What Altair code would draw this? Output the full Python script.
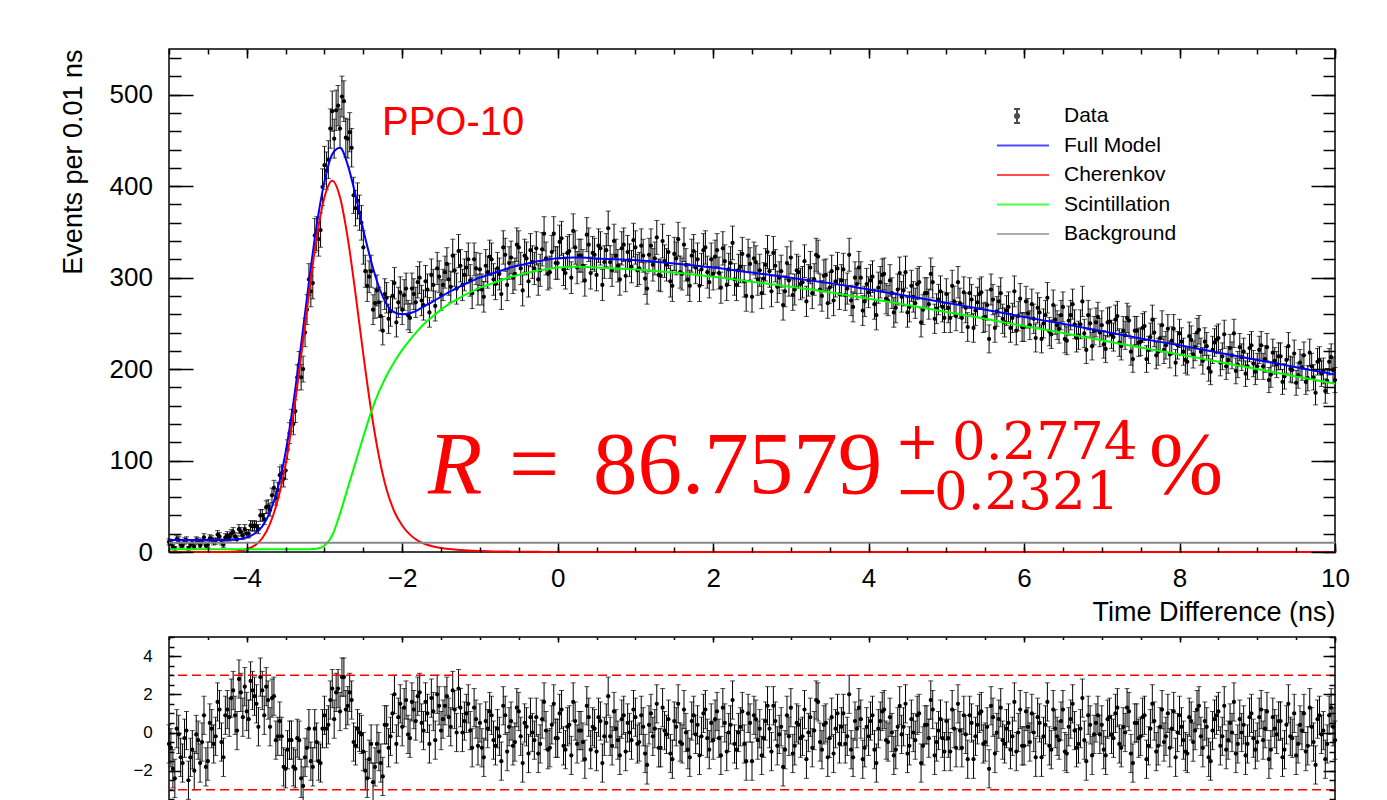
import altair as alt
import numpy as np
import pandas as pd

# ---------------- data ----------------
# bins starting at -5.000 every 0.05 ns
BIN_START_A = -5.0
# bins starting at -4.975 every 0.05 ns (interleaved with the first set)
BIN_START_B = -4.975
BIN_STEP = 0.05

counts_a = [
    11, 6, 14, 8, 12, 4, 10, 13, 7, 16, 8, 14, 12, 17, 8, 18, 20, 17, 25, 18,
    20, 29, 29, 25, 40, 49, 46, 70, 68, 86, 89, 130, 140, 191, 191, 240, 298, 294, 348, 352,
    423, 429, 482, 483, 463, 493, 452, 442, 376, 371, 333, 291, 307, 272, 273, 242, 278, 263, 294, 273,
    265, 288, 256, 282, 295, 275, 296, 262, 292, 310, 281, 306, 298, 324, 288, 313, 303, 320, 283, 310,
    309, 279, 306, 320, 293, 304, 333, 292, 322, 304, 333, 286, 321, 330, 310, 298, 331, 321, 306, 348,
    316, 343, 305, 329, 351, 311, 324, 297, 336, 327, 303, 332, 317, 354, 308, 324, 298, 336, 328, 312,
    333, 310, 324, 288, 335, 321, 303, 340, 314, 296, 326, 342, 304, 314, 291, 329, 320, 309, 333, 295,
    304, 330, 289, 318, 309, 338, 292, 312, 296, 324, 279, 317, 308, 299, 328, 285, 313, 300, 270, 316,
    322, 287, 306, 295, 274, 311, 298, 323, 280, 303, 289, 275, 310, 297, 281, 325, 268, 293, 300, 274,
    284, 301, 259, 295, 304, 275, 283, 267, 305, 286, 262, 291, 272, 295, 265, 283, 304, 255, 276, 268,
    282, 256, 274, 295, 256, 267, 283, 245, 273, 284, 257, 233, 276, 263, 283, 251, 268, 256, 242, 277,
    246, 261, 271, 234, 262, 250, 278, 238, 254, 244, 268, 231, 259, 249, 237, 274, 221, 250, 242, 257,
    248, 222, 252, 235, 258, 225, 237, 253, 211, 242, 230, 247, 221, 254, 215, 234, 221, 244, 231, 207,
    239, 219, 208, 232, 224, 243, 209, 225, 197, 229, 234, 214, 203, 223, 239, 205, 213, 195, 223, 206,
    203, 226, 211, 188, 218, 205, 214, 192, 225, 199, 185, 207, 215, 190, 203, 174, 210, 198, 187, 213,
    188,
]
counts_b = [
    10, 4, 13, 7, 13, 8, 6, 12, 11, 7, 15, 11, 19, 11, 16, 16, 22, 14, 22, 25,
    20, 28, 28, 40, 36, 50, 62, 59, 84, 80, 112, 144, 154, 205, 200, 265, 285, 346, 342, 399,
    417, 463, 452, 488, 498, 453, 459, 390, 384, 360, 307, 301, 265, 286, 258, 282, 255, 280, 251, 284,
    281, 259, 288, 273, 300, 270, 287, 303, 269, 301, 292, 315, 290, 308, 329, 292, 311, 297, 320, 287,
    287, 313, 323, 298, 310, 282, 325, 316, 300, 336, 310, 324, 296, 317, 332, 308, 348, 304, 328, 316,
    339, 309, 327, 300, 333, 324, 313, 347, 305, 325, 335, 292, 330, 317, 340, 313, 332, 302, 319, 341,
    308, 335, 299, 325, 314, 344, 302, 318, 328, 291, 321, 306, 336, 298, 324, 311, 291, 330, 306, 320,
    323, 305, 332, 292, 316, 298, 308, 326, 280, 315, 321, 298, 283, 314, 307, 327, 290, 307, 285, 297,
    281, 308, 293, 318, 297, 283, 325, 287, 302, 272, 307, 296, 282, 309, 288, 275, 300, 311, 264, 293,
    297, 271, 289, 303, 277, 297, 262, 287, 279, 306, 268, 279, 293, 251, 283, 271, 295, 266, 285, 256,
    267, 291, 258, 272, 284, 246, 276, 264, 282, 256, 270, 287, 245, 274, 255, 264, 245, 285, 258, 246,
    274, 248, 255, 267, 233, 259, 241, 270, 248, 259, 233, 253, 271, 234, 249, 239, 259, 225, 251, 240,
    227, 251, 238, 254, 229, 242, 256, 219, 242, 229, 245, 211, 235, 240, 219, 248, 226, 216, 244, 226,
    230, 210, 236, 216, 240, 219, 230, 201, 221, 232, 207, 238, 210, 215, 198, 224, 219, 203, 226, 197,
    221, 203, 224, 194, 209, 214, 186, 210, 200, 217, 193, 202, 186, 218, 191, 208, 195, 176, 208, 199,
]

pulls_a = [
    -0.6, -1.9, 0.2, -1.3, -0.3, -2.5, -0.9, -0.1, -1.6, 0.9, -1.5, 0.2, -0.2, 1.2, -1.3, 1.2, 1.8, 0.9, 2.8, 0.8,
    1.1, 2.7, 1.9, 0.3, 2.2, 2.4, 0.3, 1.9, -0.2, -0.2, -1.9, -0.4, -1.8, -0.3, -2.4, -1.3, 0.2, -1.8, -0.5, -1.6,
    0.9, 0.4, 2.3, 2.1, 1.1, 2.9, 1.4, 1.7, -0.7, 0.0, -1.0, -2.4, -0.6, -1.8, -1.0, -2.3, 0.4, -0.2, 2.0, 0.8,
    0.3, 1.7, -0.3, 1.2, 1.9, 0.5, 1.6, -0.6, 1.1, 2.0, 0.1, 1.4, 0.8, 2.2, 0.0, 1.3, 0.6, 1.5, -0.8, 0.7,
    0.5, -1.3, 0.2, 0.9, -0.7, -0.2, 1.4, -1.0, 0.6, -0.5, 1.1, -1.6, 0.3, 0.8, -0.4, -1.1, 0.7, 0.1, -0.8, 1.5,
    -0.3, 1.2, -0.9, 0.4, 1.6, -0.6, 0.1, -1.4, 0.8, 0.3, -1.0, 0.6, -0.2, 1.9, -0.7, 0.2, -1.2, 0.9, 0.5, -0.4,
    0.8, -0.5, 0.3, -1.7, 1.0, 0.2, -0.8, 1.3, -0.1, -1.1, 0.6, 1.5, -0.6, 0.0, -1.3, 0.9, 0.4, -0.2, 1.2, -0.9,
    -0.4, 1.1, -1.2, 0.5, 0.0, 1.7, -0.9, 0.3, -0.6, 1.0, -1.5, 0.7, 0.2, -0.3, 1.4, -1.0, 0.6, -0.1, -1.8, 0.9,
    1.3, -0.7, 0.4, -0.2, -1.4, 0.8, 0.1, 1.6, -0.9, 0.5, -0.3, -1.1, 1.0, 0.3, -0.6, 2.0, -1.3, 0.2, 0.7, -0.8,
    -0.2, 0.9, -1.6, 0.6, 1.2, -0.5, 0.0, -0.9, 1.4, 0.3, -1.1, 0.7, -0.4, 1.0, -0.7, 0.4, 1.7, -1.2, 0.1, -0.3,
    0.6, -1.0, 0.2, 1.5, -0.8, -0.1, 0.9, -1.4, 0.4, 1.1, -0.5, -1.9, 0.8, 0.0, 1.3, -0.6, 0.5, -0.2, -1.0, 1.2,
    -0.7, 0.3, 1.0, -1.3, 0.5, -0.2, 1.6, -0.9, 0.2, -0.4, 1.2, -1.1, 0.7, 0.1, -0.6, 1.8, -1.5, 0.4, -0.1, 0.9,
    0.4, -1.2, 0.8, -0.3, 1.3, -0.8, 0.0, 1.1, -1.6, 0.5, -0.2, 0.9, -0.7, 1.5, -1.0, 0.3, -0.5, 1.0, 0.2, -1.3,
    0.9, -0.4, -1.1, 0.6, 0.1, 1.4, -0.8, 0.3, -1.5, 0.7, 1.1, -0.2, -0.9, 0.5, 1.6, -0.6, 0.0, -1.2, 0.8, -0.3,
    -0.5, 1.2, 0.2, -1.4, 0.8, -0.1, 0.6, -0.9, 1.5, -0.3, -1.2, 0.4, 1.0, -0.7, 0.3, -1.7, 0.9, 0.1, -0.6, 1.3,
    -0.4,
]
pulls_b = [
    -0.8, -2.4, -0.1, -1.6, 0.1, -1.3, -2.0, -0.4, -0.5, -1.8, 0.5, -0.6, 1.6, -0.5, 0.9, 0.8, 2.2, 0.1, 2.1, 2.4,
    0.7, 2.2, 1.5, 2.9, 0.9, 1.7, 1.8, -0.4, 0.6, -1.8, -0.9, -0.4, -1.9, -0.4, -2.8, -0.8, -1.5, 0.2, -1.5, 0.2,
    0.2, 1.7, 0.7, 2.3, 2.9, 1.2, 2.1, -0.5, 0.2, -0.1, -2.0, -1.4, -2.6, -0.6, -1.6, 0.4, -0.8, 1.0, -0.6, 1.5,
    1.3, -0.1, 1.6, 0.6, 2.1, 0.1, 1.0, 1.8, -0.4, 1.4, 0.7, 1.9, 0.3, 1.2, 2.3, 0.0, 1.0, 0.1, 1.3, -0.7,
    -0.8, 0.6, 1.1, -0.4, 0.2, -1.5, 0.9, 0.3, -0.7, 1.3, -0.2, 0.5, -1.1, 0.0, 0.8, -0.6, 1.6, -0.9, 0.4, -0.3,
    1.0, -0.7, 0.3, -1.2, 0.6, 0.1, -0.5, 1.4, -0.9, 0.2, 0.8, -1.6, 0.5, -0.2, 1.1, -0.4, 0.7, -1.0, 0.0, 1.2,
    -0.6, 0.9, -1.1, 0.4, -0.2, 1.5, -0.8, 0.1, 0.7, -1.4, 0.3, -0.5, 1.2, -0.9, 0.6, -0.1, -1.2, 1.0, -0.3, 0.5,
    0.7, -0.3, 1.3, -1.0, 0.4, -0.6, 0.0, 1.1, -1.5, 0.5, 0.9, -0.4, -1.2, 0.6, 0.2, 1.4, -0.7, 0.3, -0.9, -0.2,
    -1.1, 0.5, -0.3, 1.2, 0.0, -0.8, 1.7, -0.5, 0.4, -1.3, 0.8, 0.2, -0.6, 1.0, -0.2, -0.9, 0.6, 1.3, -1.4, 0.3,
    0.6, -0.9, 0.2, 1.1, -0.4, 0.8, -1.2, 0.3, -0.1, 1.5, -0.7, 0.0, 0.9, -1.6, 0.4, -0.3, 1.2, -0.5, 0.7, -1.0,
    -0.3, 1.2, -0.8, 0.1, 0.9, -1.4, 0.5, -0.2, 1.0, -0.6, 0.3, 1.4, -1.1, 0.7, -0.4, 0.2, -0.9, 1.6, 0.0, -0.7,
    1.1, -0.5, 0.0, 0.8, -1.3, 0.4, -0.7, 1.2, -0.2, 0.6, -1.0, 0.3, 1.5, -0.8, 0.2, -0.4, 0.9, -1.2, 0.5, -0.1,
    -0.9, 0.7, -0.1, 1.0, -0.6, 0.3, 1.3, -1.1, 0.5, -0.3, 0.8, -1.4, 0.2, 0.6, -0.7, 1.2, -0.2, -0.8, 1.1, 0.0,
    0.3, -1.0, 0.8, -0.5, 1.2, -0.2, 0.6, -1.3, 0.1, 0.9, -0.7, 1.4, -0.4, 0.0, -1.1, 0.7, 0.4, -0.6, 1.0, -0.9,
    0.8, -0.4, 1.1, -0.9, 0.2, 0.6, -1.3, 0.4, -0.2, 1.0, -0.6, 0.1, -1.0, 1.3, -0.5, 0.7, -0.1, -1.4, 0.9, 0.3,
]

model_t = [
    -5.0, -4.5, -4.4, -4.3, -4.2, -4.1, -4.0, -3.9, -3.8, -3.7, -3.6, -3.5, -3.4, -3.3, -3.2, -3.1,
    -3.0, -2.9, -2.8, -2.7, -2.6, -2.5, -2.4, -2.3, -2.2, -2.1, -2.0, -1.9, -1.8, -1.7, -1.6, -1.5,
    -1.4, -1.3, -1.2, -1.1, -1.0, -0.9, -0.8, -0.7, -0.6, -0.5, -0.4, -0.3, -0.2, -0.1, 0.0, 0.1,
    0.2, 0.3, 0.4, 0.5, 1.0, 1.5, 2.0, 2.5, 3.0, 3.5, 4.0, 4.5, 5.0, 5.5, 6.0, 6.5, 7.0, 7.5, 8.0,
    8.5, 9.0, 9.5, 10.0,
]
cherenkov = [
    0, 0, 0, 0.1, 0.4, 1.2, 3, 7, 15, 31, 57, 96, 150, 214, 282, 344,
    388, 406, 388, 343, 282, 216, 155, 105, 68, 44, 29, 19, 12.5, 8.5, 6, 4.3,
    3.2, 2.4, 1.8, 1.4, 1.1, 0.8, 0.6, 0.5, 0.4, 0.3, 0.2, 0.2, 0.1, 0.1, 0.1, 0,
    0, 0, 0, 0, 0, 0, 0, 0, 0, 0, 0, 0, 0, 0, 0, 0, 0, 0, 0,
    0, 0, 0, 0,
]
scintillation = [
    3, 3, 3, 3, 3, 3, 3, 3, 3, 3, 3, 3, 3, 3, 3, 3.5,
    7, 18, 42, 70, 98, 126, 153, 175, 193, 208, 221, 232, 242, 251, 258, 265,
    271, 276, 281, 285, 289, 292, 295, 298, 301, 303, 305, 307, 308.5, 310, 311, 311.5,
    312, 312, 311.5, 311, 309, 305.5, 301, 295.5, 290, 284, 277, 270, 262.5, 255, 247, 239.5, 231.5, 223.5, 216,
    208, 200, 192, 184,
]
full_model = [
    13, 13, 13, 13.1, 13.4, 14.2, 16, 20, 28, 44, 70, 109, 163, 227, 295, 357.5,
    405, 435, 442, 423, 390, 352, 318, 290, 271, 262, 260, 261, 264.5, 269.5, 274, 279.3,
    284.2, 288.4, 292.8, 296.4, 300.1, 302.8, 305.6, 308.5, 311.4, 313.3, 315.2, 317.2, 318.6, 320.1, 321.1, 321.5,
    322, 322, 321.5, 321, 319, 315.5, 311, 305.5, 300, 294, 287, 280, 272.5, 265, 257, 249.5, 241.5, 233.5, 226,
    218, 210, 202, 194,
]
background_t = [-5.0, 10.0]
background = [10.0, 10.0]
pull_band = [3, -3]

series_names = ["Data", "Full Model", "Cherenkov", "Scintillation", "Background"]
series_colors = ["#000000", "#0000ff", "#ff0000", "#00ff00", "#888888"]

x_labels = [-4, -2, 0, 2, 4, 6, 8, 10]
x_minor = [v / 2 for v in range(-10, 21)]
y_labels = [0, 100, 200, 300, 400, 500]
y_minor = list(range(0, 541, 20))
pull_labels = [-4, -2, 0, 2, 4]
pull_minor = [v / 2 for v in range(-10, 11)]

# ---------------- tables ----------------
t_a = [round(BIN_START_A + BIN_STEP * i, 3) for i in range(len(counts_a))]
t_b = [round(BIN_START_B + BIN_STEP * i, 3) for i in range(len(counts_b))]
data = pd.concat([
    pd.DataFrame({"t": t_a, "n": counts_a, "pull": pulls_a}),
    pd.DataFrame({"t": t_b, "n": counts_b, "pull": pulls_b}),
]).sort_values("t").reset_index(drop=True)
data["err"] = np.sqrt(data["n"])
data["lo"] = data["n"] - data["err"]
data["hi"] = data["n"] + data["err"]
data["plo"] = data["pull"] - 1
data["phi"] = data["pull"] + 1

model = pd.DataFrame({"t": model_t, "cherenkov": cherenkov, "scint": scintillation, "full": full_model})
bkg = pd.DataFrame({"t": background_t, "bkg": background})
band = pd.DataFrame({"y": pull_band})
legend_df = pd.DataFrame({"series": series_names})

SANS = "Liberation Sans"
W, H1, H2 = 1166, 503, 191


def label_axis(orient, values, size, pad, title=None, tsize=27, tpad=0):
    kw = dict(orient=orient, values=values, ticks=False, tickSize=0, domain=False, grid=False,
              labelFont=SANS, labelFontSize=size, labelColor="black", labelPadding=pad,
              labelOverlap=False, labelFlush=False, labelBound=False)
    if title:
        kw.update(title=title, titleFont=SANS, titleFontSize=tsize, titleFontWeight="normal",
                  titleColor="black", titleAnchor="end", titlePadding=tpad)
    else:
        kw["title"] = None
    return alt.Axis(**kw)


def tick_axis(orient, values, size):
    return alt.Axis(orient=orient, values=values, ticks=True, tickSize=size, tickWidth=1.5,
                    tickColor="black", offset=-size, labels=False, domain=False, grid=False,
                    title=None, zindex=1)


def text_layer(txt, x, y, size, font, style="normal"):
    return alt.Chart(pd.DataFrame({"label": [txt]})).mark_text(
        align="left", baseline="alphabetic", font=font, fontSize=size, fontStyle=style,
        color="#ff0000").encode(x=alt.value(x), y=alt.value(y), text="label:N")


xs = alt.Scale(domain=[-5, 10], nice=False, zero=False)
ys = alt.Scale(domain=[0, 550], nice=False, zero=False)
ps = alt.Scale(domain=[-5, 5], nice=False, zero=False)

# ---------------- main panel ----------------
base = alt.Chart(data)
err = base.mark_rule(color="black", strokeWidth=1).encode(
    x=alt.X("t:Q", scale=xs, axis=label_axis("bottom", x_labels, 26, 13, "Time Difference (ns)", 27, 8)),
    y=alt.Y("lo:Q", scale=ys, axis=label_axis("left", y_labels, 26, 16.5, "Events per 0.01 ns", 27, 22)),
    y2="hi:Q")
cap_lo = base.mark_tick(color="black", orient="horizontal", size=5, thickness=1).encode(
    x=alt.X("t:Q", scale=xs, axis=tick_axis("bottom", x_labels, 9)),
    y=alt.Y("lo:Q", scale=ys, axis=tick_axis("left", y_labels, 24)))
cap_hi = base.mark_tick(color="black", orient="horizontal", size=5, thickness=1).encode(
    x=alt.X("t:Q", scale=xs, axis=tick_axis("bottom", x_minor, 5)),
    y=alt.Y("hi:Q", scale=ys, axis=tick_axis("left", y_minor, 12)))
pts = base.mark_circle(color="black", size=18, opacity=1).encode(
    x=alt.X("t:Q", scale=xs, axis=tick_axis("top", x_labels, 9)),
    y=alt.Y("n:Q", scale=ys, axis=tick_axis("right", y_labels, 24)))
blue = alt.Chart(model).mark_line(color="#0000ff", strokeWidth=2, interpolate="monotone").encode(
    x=alt.X("t:Q", scale=xs, axis=tick_axis("top", x_minor, 5)),
    y=alt.Y("full:Q", scale=ys, axis=tick_axis("right", y_minor, 12)))
red = alt.Chart(model).mark_line(color="#ff0000", strokeWidth=2, interpolate="monotone").encode(
    x=alt.X("t:Q", scale=xs, axis=None), y=alt.Y("cherenkov:Q", scale=ys, axis=None))
green = alt.Chart(model).mark_line(color="#00ff00", strokeWidth=2, interpolate="monotone").encode(
    x=alt.X("t:Q", scale=xs, axis=None), y=alt.Y("scint:Q", scale=ys, axis=None))
gray = alt.Chart(bkg).mark_line(color="#888888", strokeWidth=2).encode(
    x=alt.X("t:Q", scale=xs, axis=None), y=alt.Y("bkg:Q", scale=ys, axis=None))

DATA_SYMBOL = ("M-0.23,-0.27L-0.23,0.27M-0.345,-0.27L-0.115,-0.27M-0.345,0.27L-0.115,0.27"
               "M-0.31,0A0.08,0.08,0,1,1,-0.15,0A0.08,0.08,0,1,1,-0.31,0Z")
leg = alt.Legend(orient="none", legendX=827, legendY=56, title=None, labelFont=SANS,
                 labelFontSize=21, labelColor="black", symbolSize=2704, symbolStrokeWidth=2,
                 clipHeight=22, rowPadding=7.5, labelOffset=14, padding=0, symbolOffset=0)
legend_layer = alt.Chart(legend_df).transform_filter("false").mark_point(filled=False, strokeWidth=2).encode(
    color=alt.Color("series:N", scale=alt.Scale(domain=series_names, range=series_colors), legend=leg),
    shape=alt.Shape("series:N", scale=alt.Scale(domain=series_names,
                                               range=[DATA_SYMBOL, "stroke", "stroke", "stroke", "stroke"]),
                    legend=leg))

texts = [
    text_layer("PPO-10", 213, 86, 40, SANS),
    text_layer("R", 259, 444, 89, "Liberation Serif", "italic"),
    text_layer("=", 340, 444, 89, "Liberation Serif"),
    text_layer("86.7579", 424, 444, 89, "Liberation Serif"),
    text_layer("+", 726, 410, 53, "DejaVu Serif"),
    text_layer("0.2774", 783, 410, 53, "DejaVu Serif"),
    text_layer("\u2212", 726, 460, 53, "DejaVu Serif"),
    text_layer("0.2321", 765, 460, 53, "DejaVu Serif"),
    text_layer("%", 980, 444, 89, "Liberation Serif"),
]

main = alt.layer(err, cap_lo, cap_hi, pts, blue, red, green, gray, legend_layer, *texts).resolve_axis(
    x="independent", y="independent").properties(width=W, height=H1)

# ---------------- pull panel ----------------
rbase = alt.Chart(data)
rerr = rbase.mark_rule(color="black", strokeWidth=1).encode(
    x=alt.X("t:Q", scale=xs, axis=label_axis("bottom", x_labels, 17, 8)),
    y=alt.Y("plo:Q", scale=ps, axis=label_axis("left", pull_labels, 17, 16.7)),
    y2="phi:Q")
rcap_lo = rbase.mark_tick(color="black", orient="horizontal", size=5, thickness=1).encode(
    x=alt.X("t:Q", scale=xs, axis=tick_axis("bottom", x_labels, 5)),
    y=alt.Y("plo:Q", scale=ps, axis=tick_axis("left", pull_labels, 12)))
rcap_hi = rbase.mark_tick(color="black", orient="horizontal", size=5, thickness=1).encode(
    x=alt.X("t:Q", scale=xs, axis=tick_axis("top", x_labels, 5)),
    y=alt.Y("phi:Q", scale=ps, axis=tick_axis("left", pull_minor, 5)))
rpts = rbase.mark_circle(color="black", size=18, opacity=1).encode(
    x=alt.X("t:Q", scale=xs, axis=tick_axis("top", x_minor, 2.5)),
    y=alt.Y("pull:Q", scale=ps, axis=tick_axis("right", pull_labels, 12)))
rband = alt.Chart(band).mark_rule(color="#ff0000", strokeWidth=1.5, strokeDash=[9, 5]).encode(
    y=alt.Y("y:Q", scale=ps, axis=tick_axis("right", pull_minor, 6)))

resid = alt.layer(rerr, rcap_lo, rcap_hi, rpts, rband).resolve_axis(
    x="independent", y="independent").properties(width=W, height=H2)

chart = alt.vconcat(main, resid, spacing=9).properties(
    padding={"left": 50, "top": 39, "right": 10, "bottom": 10}
).configure_view(stroke="black", strokeWidth=1.5)

chart.save("out.html", embed_options={"renderer": "svg", "actions": False})
